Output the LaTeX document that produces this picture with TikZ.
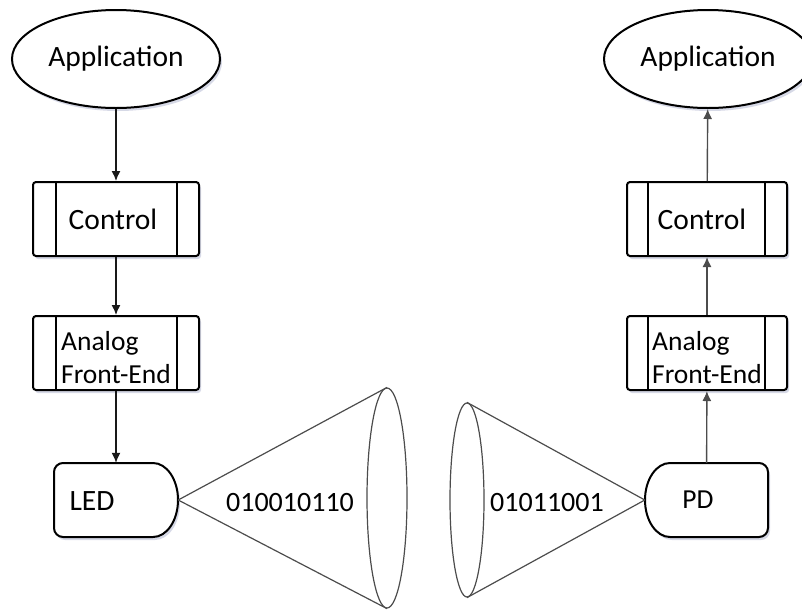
\documentclass[tikz,border=0pt]{standalone}
\usepackage{fontspec}
\setmainfont{Carlito}
\usetikzlibrary{shapes.geometric,arrows.meta,shadows}
\definecolor{shadowblue}{RGB}{165,170,200}
\begin{document}
\begin{tikzpicture}[x=1pt,y=-1pt,
  font=\fontsize{27.5}{33}\selectfont,
  bigtext/.style={font=\fontsize{29.5}{35}\selectfont},
  softshadow/.style={drop shadow={shadow xshift=2pt,shadow yshift=-3pt,fill=shadowblue,opacity=0.45}},
  appnode/.style={ellipse,draw=black,line width=2pt,fill=white,minimum width=208pt,minimum height=98pt,inner sep=0pt,softshadow,bigtext},
  procbox/.style={rectangle,rounded corners=3pt,draw=black,line width=2pt,fill=white,minimum height=74pt,inner sep=0pt,softshadow},
  afetext/.style={label={[align=left,inner sep=0pt,yshift=-5pt]center:Analog\\Front-End}},
  devbox/.style={minimum width=124pt,minimum height=74pt,inner sep=0pt},
  devline/.style={draw=black,line width=2pt,fill=white,softshadow},
  link/.style={-{Latex[length=10pt,width=9pt]},line width=1.4pt,draw=black!90},
  linkR/.style={link,draw=black!70},
  beam/.style={draw=black!70,line width=1.2pt},
  beamend/.style={ellipse,beam,minimum width=40pt,inner sep=0pt},
  bits/.style={inner sep=0pt,font=\fontsize{28}{33}\selectfont}]
\useasboundingbox (0,0) rectangle (802,611);

% ---------------- transmitter chain ----------------
\node[appnode] (appL) at (116,59) {Application};
\node[procbox,minimum width=166pt,bigtext] (ctlL) at (116,219) {\kern-6pt Control};
\node[procbox,minimum width=166pt,afetext] (afeL) at (116,353) {};
\foreach \b in {ctlL,afeL}{
  \draw[line width=2pt] ([xshift=24pt]\b.north west) -- ([xshift=24pt]\b.south west);
  \draw[line width=2pt] ([xshift=-23pt]\b.north east) -- ([xshift=-23pt]\b.south east);
}
\node[devbox] (led) at (116,500) {};
\draw[devline] (153,463) [rounded corners=9pt] -- (54,463) -- (54,537) [sharp corners] -- (153,537)
  .. controls (166.8,537) and (178,520.4) .. (178,500)
  .. controls (178,479.6) and (166.8,463) .. cycle;
\node[bigtext] (ledlabel) at (92,501) {LED};

\draw[link] (appL) -- (ctlL);
\draw[link] (ctlL) -- (afeL);
\draw[link] (afeL) -- (led);

% light cone leaving the LED
\node[beamend,minimum height=220pt] (beamL) at (387,498) {};
\draw[beam] (led.east) -- (beamL.north);
\draw[beam] (led.east) -- (beamL.south);
\node[bits] (bitsL) at (290,502) {010010110};

% ---------------- receiver chain ----------------
\node[appnode] (appR) at (708,59) {Application};
\node[procbox,minimum width=160pt,bigtext] (ctlR) at (707,219) {\kern-10pt Control};
\node[procbox,minimum width=160pt,afetext] (afeR) at (707,353) {};
\foreach \b in {ctlR,afeR}{
  \draw[line width=2pt] ([xshift=22pt]\b.north west) -- ([xshift=22pt]\b.south west);
  \draw[line width=2pt] ([xshift=-23pt]\b.north east) -- ([xshift=-23pt]\b.south east);
}
\node[devbox,minimum width=123pt] (pd) at (706.5,500) {};
\draw[devline] (670,463) [rounded corners=9pt] -- (768,463) -- (768,537) [sharp corners] -- (670,537)
  .. controls (656.2,537) and (645,520.4) .. (645,500)
  .. controls (645,479.6) and (656.2,463) .. cycle;
\node (pdlabel) at (698,500) {PD};

\draw[linkR] (pd) -- (afeR);
\draw[linkR] (afeR) -- (ctlR);
\draw[linkR] (ctlR) -- (appR);

% light cone arriving at the photodiode
\node[beamend,minimum width=34pt,minimum height=194pt] (beamR) at (467,500) {};
\draw[beam] (pd.west) -- (beamR.north);
\draw[beam] (pd.west) -- (beamR.south);
\node[bits] (bitsR) at (547,502) {01011001};
\end{tikzpicture}
\end{document}
